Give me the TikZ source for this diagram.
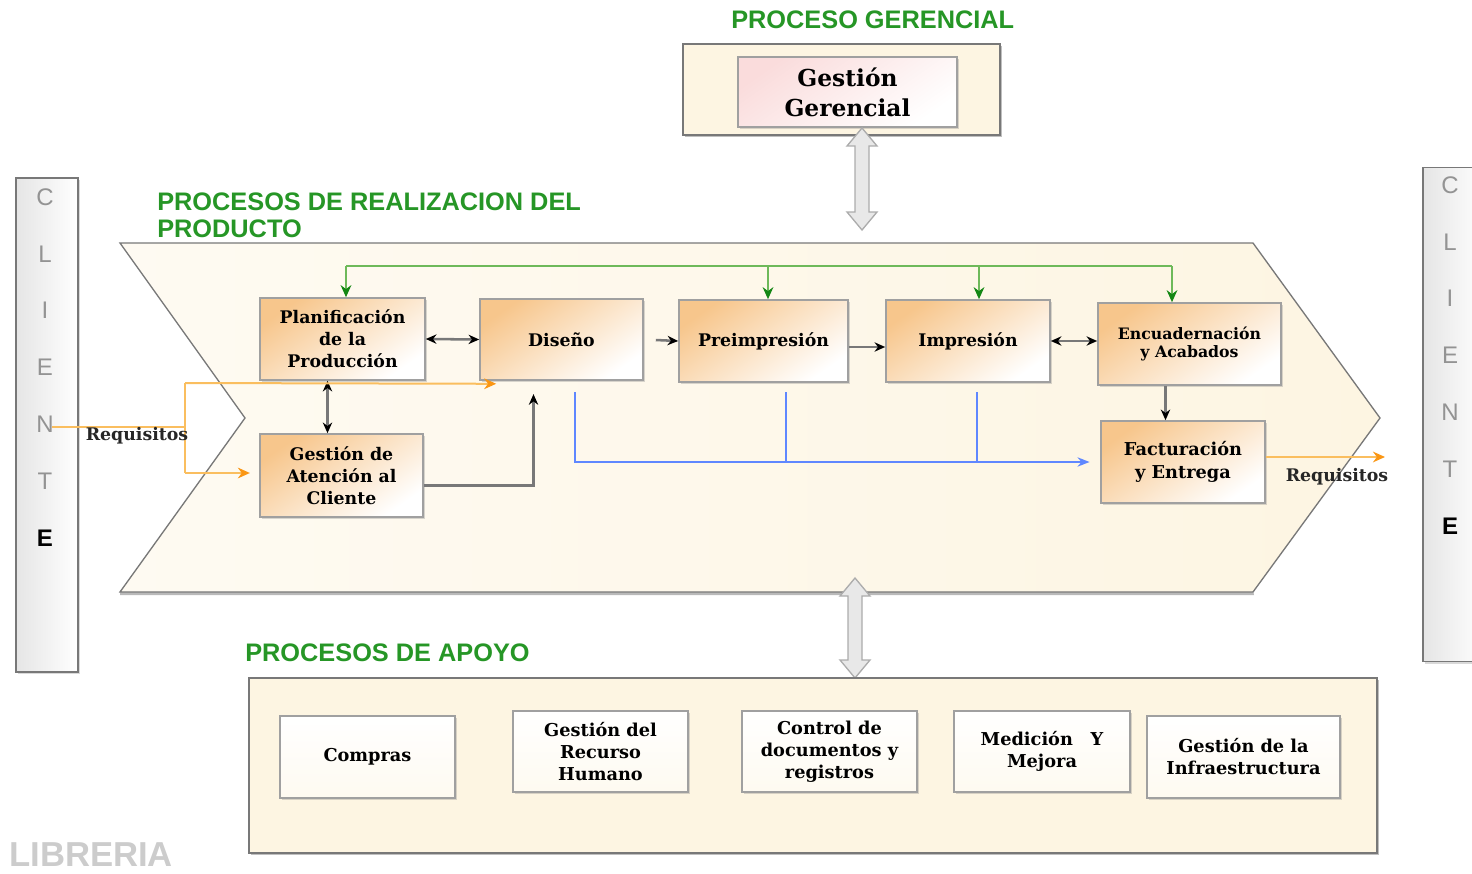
\documentclass[tikz,border=0pt]{standalone}
\usepackage{fontspec}
\setmainfont{DejaVu Serif}
\setsansfont{Liberation Sans}
\usepackage{tikz}
\usetikzlibrary{positioning,calc,arrows.meta,shadows}
\definecolor{verdetit}{RGB}{38,150,38}
\definecolor{verdelin}{RGB}{110,185,90}
\definecolor{verdepunta}{RGB}{20,135,20}
\definecolor{azullin}{RGB}{95,135,255}
\definecolor{naranjalin}{RGB}{250,190,95}
\definecolor{naranjapunta}{RGB}{250,150,20}
\definecolor{cajanar}{RGB}{247,198,140}
\definecolor{crema}{RGB}{253,245,226}
\definecolor{rosa}{RGB}{250,220,220}
\definecolor{bordegris}{RGB}{160,160,160}
\definecolor{lineagris}{RGB}{120,120,120}
\tikzset{
  px/.style={x=0.75pt,y=-0.75pt},
  tam/.style 2 args={minimum width=#1*0.75pt,minimum height=#2*0.75pt},
  sombra/.style={drop shadow={shadow xshift=1.5pt,shadow yshift=-1.5pt,opacity=.3}},
  proc/.style={draw=bordegris,line width=1.2pt,top color=cajanar,bottom color=white,shading angle=35,
    align=center,inner sep=2pt,font=\bfseries\fontsize{13}{16.5}\selectfont,sombra},
  apoyo/.style={draw=bordegris,line width=1.2pt,top color=white,bottom color=crema!50!white,
    align=center,inner sep=2pt,font=\bfseries\fontsize{13.3}{16.5}\selectfont,sombra},
  marco/.style={draw=lineagris,line width=1pt,fill=crema,
    drop shadow={shadow xshift=1.5pt,shadow yshift=-1.5pt,opacity=.5}},
  cliente/.style={draw=lineagris,line width=1.2pt,left color=gray!20,right color=white,
    drop shadow={shadow xshift=1.5pt,shadow yshift=-1.5pt,opacity=.3}},
  letra/.style={font=\sffamily\fontsize{18}{18}\selectfont,text=gray!85,inner sep=0pt},
  letrafin/.style={font=\sffamily\bfseries\fontsize{18}{18}\selectfont,text=black,inner sep=0pt},
  titulo/.style={font=\sffamily\bfseries\fontsize{19}{20.5}\selectfont,text=verdetit,
    anchor=west,align=left,inner sep=0pt},
  rotulo/.style={font=\bfseries\fontsize{13}{15}\selectfont,text=black!85,inner sep=0pt},
}

\begin{document}
\begin{tikzpicture}[px,
  negro/.style={draw=lineagris,line width=1.9pt,-{Stealth[length=8pt,width=7pt,color=black]}},
  negrodoble/.style={draw=lineagris,line width=1.9pt,{Stealth[length=8pt,width=7pt,color=black]}-{Stealth[length=8pt,width=7pt,color=black]}},
  verde/.style={draw=verdelin,line width=1.5pt},
  verdeflecha/.style={verde,-{Stealth[length=9pt,width=8pt,color=verdepunta]}},
  azul/.style={draw=azullin,line width=1.4pt},
  azulflecha/.style={azul,-{Stealth[length=9pt,width=7pt]}},
  naranja/.style={draw=naranjalin,line width=1.5pt},
  naranjaflecha/.style={naranja,-{Stealth[length=9pt,width=8pt,color=naranjapunta]}},
  bloque/.style={draw=gray!65,line width=1pt,fill=gray!18}]
  \useasboundingbox (0,0) rectangle (1472,874);

  % clientes
  \node[cliente,tam={62}{494}] (cliI) at (47,425) {};
  \foreach \l [count=\i from 0] in {C,L,I,E,N,T} \node[letra] (cI\i) at (45,197+56.8*\i) {\l};
  \node[letrafin] (cI6) at (45,538) {E};
  \node[cliente,tam={62}{494}] (cliD) at (1454,414.5) {};
  \foreach \l [count=\i from 0] in {C,L,I,E,N,T} \node[letra] (cD\i) at (1450,185+56.8*\i) {\l};
  \node[letrafin] (cD6) at (1450,526) {E};

  % proceso gerencial
  \node[titulo] (tger) at (731,20) {PROCESO GERENCIAL};
  \node[marco,tam={317}{91}] (mger) at (841.5,89.5) {};
  \node[draw=bordegris,line width=1.2pt,top color=rosa,bottom color=white,shading angle=35,sombra,
    tam={219}{70},align=center,font=\bfseries\fontsize{17.5}{22.5}\selectfont] (ger) at (847.5,92) {Gestión\\Gerencial};

  % cadena de realizacion
  \node[titulo] (treal) at (157,215.5) {PROCESOS DE REALIZACION DEL\\PRODUCTO};
  \fill[gray!55] (120,590) -- (1253,590) -- (1254,595) -- (120,595) -- cycle;
  \draw[lineagris,line width=1pt,left color=crema!45!white,right color=crema]
    (120,243) -- (1253,243) -- (1380,418) -- (1253,592) -- (120,592) -- (245,418) -- cycle;

  \node[proc,tam={165}{82}] (plan) at (342.5,339) {Planificación\\de la\\Producción};
  \node[proc,tam={163}{81}] (dis) at (561.5,339.5) {Diseño};
  \node[proc,tam={169}{82}] (pre) at (763.5,341) {Preimpresión};
  \node[proc,tam={164}{82}] (imp) at (968,341) {Impresión};
  \node[proc,tam={183}{82},font=\bfseries\fontsize{11.8}{13.5}\selectfont] (enc) at (1189.5,344) {Encuadernación\\y Acabados};
  \node[proc,tam={164}{82},font=\bfseries\fontsize{13.3}{17}\selectfont] (fac) at (1183,462) {Facturación\\y Entrega};
  \node[proc,tam={163}{83}] (aten) at (341.5,475.5) {Gestión de\\Atención al\\Cliente};

  % flujo principal
  \coordinate (pa) at ($(plan.south)+(-15,0)$);
  \coordinate (ea) at ($(enc.south)+(-24,0)$);
  \coordinate (da) at ($(dis.south)+(-28,0)$);
  \draw[negrodoble] (plan.east) -- (dis.west);
  \draw[negro,shorten <=9pt] (dis.east) -- (pre.west);
  \draw[negro] ([yshift=-4.5pt]pre.east) -- ([yshift=-4.5pt]imp.west);
  \draw[negrodoble] (imp.east) -- (imp.east -| enc.west);
  \draw[negro] (ea) -- (ea |- fac.north);
  \draw[negrodoble] (pa) -- (pa |- aten.north);
  \draw[negro,shorten >=10pt] ($(aten.east)+(0,10)$) -| (da);

  % lineas verdes
  \coordinate (g1) at (346,266);
  \coordinate (g2) at (768,266);
  \coordinate (g3) at (979,266);
  \coordinate (g4) at (1172,266);
  \draw[verde] (g1) -- (g4);
  \foreach \c/\n in {g1/plan,g2/pre,g3/imp,g4/enc} \draw[verdeflecha] (\c) -- (\c |- \n.north);

  % lineas azules
  \coordinate (b1) at (575,392);
  \coordinate (b2) at (786,392);
  \coordinate (b3) at (977,392);
  \draw[azulflecha,shorten >=8pt] (b1) |- (fac.west);
  \draw[azul] (b2) -- (b2 |- fac.west);
  \draw[azul] (b3) -- (b3 |- fac.west);

  % requisitos
  \coordinate (rqI) at (52,427);
  \coordinate (o1) at (185,427);
  \coordinate (oa) at (185,383);
  \coordinate (ob) at (185,473);
  \draw[naranja] (rqI) -- (o1);
  \draw[naranja] (oa) -- (ob);
  \draw[naranjaflecha] (oa) -- ($(dis.south west)+(17,3)$);
  \draw[naranjaflecha,shorten >=7pt] (ob) -- (ob -| aten.west);
  \node[rotulo] (rq1) at (137,436) {Requisitos};
  \coordinate (rqD) at (1385,457);
  \draw[naranjaflecha] (fac.east |- rqD) -- (rqD);
  \node[rotulo] (rq2) at (1337,477) {Requisitos};

  % flechas de bloque
  \coordinate (ga) at (862,128);
  \coordinate (gb) at (862,230);
  \coordinate (aa) at (855,578);
  \coordinate (ab) at (855,678);
  \foreach \p/\q in {ga/gb,aa/ab}
    \draw[bloque] (\p) -- ($(\p)+(15,18)$) -- ($(\p)+(7,18)$) -- ($(\q)+(7,-18)$) -- ($(\q)+(15,-18)$)
      -- (\q) -- ($(\q)+(-15,-18)$) -- ($(\q)+(-7,-18)$) -- ($(\p)+(-7,18)$) -- ($(\p)+(-15,18)$) -- cycle;

  % procesos de apoyo
  \node[titulo] (tapo) at (245,653) {PROCESOS DE APOYO};
  \node[marco,tam={1128}{175}] (mapo) at (813,765.5) {};
  \node[apoyo,tam={175}{82}] (com) at (367.5,757) {Compras};
  \node[apoyo,tam={175}{81}] (rrhh) at (600.5,751.5) {Gestión del\\Recurso\\Humano};
  \node[apoyo,tam={175}{81}] (doc) at (829.5,751.5) {Control de\\documentos y\\registros};
  \node[apoyo,tam={176}{81}] (med) at (1042,751.5) {Medición\quad Y\\Mejora};
  \node[apoyo,tam={193}{82}] (inf) at (1243.5,757) {Gestión de la\\Infraestructura};

  \node[font=\sffamily\bfseries\fontsize{26}{26}\selectfont,text=gray!40,anchor=west,inner sep=0pt] (lib) at (9,855) {LIBRERIA};
\end{tikzpicture}
\end{document}
